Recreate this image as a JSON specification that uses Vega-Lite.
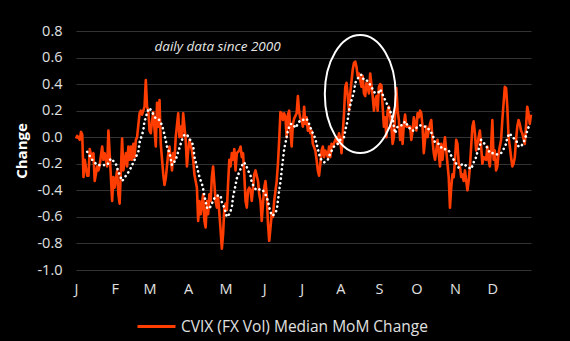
{
  "$schema": "https://vega.github.io/schema/vega-lite/v6.json",
  "width": 455,
  "height": 239,
  "autosize": {"type": "none"},
  "padding": {"left": 76, "top": 31, "right": 39, "bottom": 71},
  "background": "#000000",
  "config": {
    "font": "Open Sans",
    "view": {"stroke": null},
    "axis": {"labelColor": "#e0e0e0", "labelFontSize": 14.5, "domain": false, "ticks": false}
  },
  "datasets": {
    "cvix": [
      {"d":0,"v":-0.01},{"d":1,"v":0.01},{"d":3,"v":-0.02},{"d":4,"v":0.04},{"d":5,"v":0.02},{"d":6,"v":-0.30},{"d":7,"v":-0.17},{"d":9,"v":-0.29},{"d":10,"v":-0.29},{"d":11,"v":-0.09},{"d":13,"v":-0.17},{"d":14,"v":-0.12},{"d":15,"v":-0.33},{"d":17,"v":-0.22},{"d":18,"v":-0.25},{"d":19,"v":-0.21},{"d":21,"v":-0.07},{"d":22,"v":-0.17},{"d":23,"v":-0.12},{"d":25,"v":-0.22},{"d":26,"v":0.05},{"d":27,"v":-0.12},{"d":29,"v":-0.48},{"d":30,"v":-0.30},{"d":31,"v":-0.38},{"d":33,"v":-0.25},{"d":34,"v":-0.43},{"d":35,"v":-0.50},{"d":36,"v":-0.25},{"d":37,"v":-0.01},{"d":38,"v":-0.25},{"d":40,"v":-0.12},{"d":41,"v":-0.22},{"d":42,"v":-0.07},{"d":43,"v":-0.17},{"d":44,"v":-0.07},{"d":45,"v":-0.17},{"d":46,"v":-0.05},{"d":47,"v":-0.15},{"d":48,"v":-0.02},{"d":49,"v":0.00},{"d":51,"v":0.18},{"d":52,"v":0.20},{"d":53,"v":0.17},{"d":55,"v":0.23},{"d":56,"v":0.43},{"d":57,"v":0.23},{"d":58,"v":0.20},{"d":59,"v":0.05},{"d":60,"v":0.03},{"d":61,"v":0.12},
      {"d":62,"v":0.19},{"d":64,"v":-0.07},{"d":65,"v":0.26},{"d":66,"v":0.08},{"d":67,"v":0.28},{"d":68,"v":-0.05},{"d":70,"v":-0.28},{"d":71,"v":-0.36},{"d":72,"v":-0.31},{"d":74,"v":-0.12},{"d":75,"v":-0.07},{"d":77,"v":-0.25},{"d":78,"v":-0.12},{"d":79,"v":-0.17},{"d":80,"v":0.00},{"d":82,"v":0.18},{"d":83,"v":0.00},{"d":84,"v":0.08},{"d":85,"v":0.00},{"d":86,"v":0.18},{"d":88,"v":-0.02},{"d":89,"v":-0.22},{"d":90,"v":-0.10},{"d":91,"v":-0.02},{"d":93,"v":-0.10},{"d":94,"v":-0.17},{"d":95,"v":-0.28},{"d":97,"v":-0.38},{"d":98,"v":-0.63},{"d":99,"v":-0.48},{"d":100,"v":-0.58},{"d":102,"v":-0.43},{"d":103,"v":-0.63},{"d":104,"v":-0.68},{"d":105,"v":-0.48},{"d":106,"v":-0.58},{"d":107,"v":-0.43},{"d":108,"v":-0.48},{"d":109,"v":-0.30},{"d":110,"v":-0.22},{"d":111,"v":-0.35},{"d":112,"v":-0.48},{"d":113,"v":-0.53},{"d":114,"v":-0.45},{"d":116,"v":-0.70},{"d":117,"v":-0.84},{"d":118,"v":-0.73},{"d":119,"v":-0.53},{"d":120,"v":-0.50},{"d":121,"v":-0.55},{"d":122,"v":-0.35},
      {"d":123,"v":-0.17},{"d":124,"v":-0.22},{"d":125,"v":-0.12},{"d":126,"v":-0.17},{"d":127,"v":-0.09},{"d":128,"v":-0.25},{"d":129,"v":-0.12},{"d":131,"v":-0.10},{"d":132,"v":-0.07},{"d":133,"v":-0.15},{"d":134,"v":-0.12},{"d":135,"v":-0.28},{"d":136,"v":-0.48},{"d":137,"v":-0.53},{"d":138,"v":-0.40},{"d":139,"v":-0.38},{"d":140,"v":-0.40},{"d":141,"v":-0.48},{"d":142,"v":-0.38},{"d":143,"v":-0.28},{"d":144,"v":-0.25},{"d":146,"v":-0.33},{"d":147,"v":-0.43},{"d":148,"v":-0.48},{"d":149,"v":-0.63},{"d":150,"v":-0.50},{"d":151,"v":-0.38},{"d":152,"v":-0.33},{"d":153,"v":-0.43},{"d":154,"v":-0.65},{"d":155,"v":-0.78},{"d":156,"v":-0.68},{"d":157,"v":-0.58},{"d":158,"v":-0.60},{"d":159,"v":-0.48},{"d":161,"v":-0.33},{"d":162,"v":-0.20},{"d":163,"v":-0.02},{"d":164,"v":0.19},{"d":165,"v":0.18},{"d":166,"v":0.13},{"d":167,"v":0.18},{"d":168,"v":0.15},{"d":169,"v":0.00},{"d":170,"v":0.17},{"d":171,"v":0.20},{"d":172,"v":0.05},{"d":173,"v":-0.07},{"d":174,"v":0.10},{"d":175,"v":0.14},{"d":177,"v":0.18},{"d":178,"v":0.31},{"d":179,"v":0.19},{"d":180,"v":0.14},{"d":181,"v":0.13},{"d":182,"v":0.08},
      {"d":183,"v":0.23},{"d":184,"v":0.10},{"d":185,"v":0.15},{"d":186,"v":0.05},{"d":187,"v":0.08},{"d":188,"v":0.03},{"d":189,"v":0.05},{"d":190,"v":-0.05},{"d":192,"v":-0.10},{"d":193,"v":-0.17},{"d":194,"v":-0.25},{"d":195,"v":-0.29},{"d":196,"v":-0.20},{"d":197,"v":-0.10},{"d":198,"v":-0.07},{"d":199,"v":-0.15},{"d":200,"v":-0.10},{"d":201,"v":-0.12},{"d":202,"v":-0.15},{"d":203,"v":-0.07},{"d":204,"v":-0.15},{"d":205,"v":-0.05},{"d":206,"v":-0.07},{"d":208,"v":-0.02},{"d":209,"v":0.00},{"d":210,"v":-0.05},{"d":211,"v":0.03},{"d":212,"v":-0.02},{"d":213,"v":-0.12},{"d":214,"v":0.03},{"d":215,"v":0.18},{"d":216,"v":0.38},{"d":217,"v":0.41},{"d":218,"v":0.31},{"d":219,"v":0.20},{"d":220,"v":0.33},{"d":222,"v":0.51},{"d":223,"v":0.56},{"d":224,"v":0.57},{"d":225,"v":0.53},{"d":226,"v":0.46},{"d":227,"v":0.48},{"d":228,"v":0.43},{"d":229,"v":0.38},{"d":230,"v":0.46},{"d":231,"v":0.33},{"d":232,"v":0.31},{"d":233,"v":0.41},{"d":234,"v":0.38},{"d":235,"v":0.33},{"d":236,"v":0.48},{"d":238,"v":0.31},{"d":239,"v":0.20},{"d":240,"v":0.28},{"d":241,"v":0.31},{"d":242,"v":0.20},{"d":243,"v":0.38},{"d":244,"v":0.40},
      {"d":245,"v":0.39},{"d":246,"v":0.23},{"d":247,"v":0.08},{"d":248,"v":0.15},{"d":249,"v":0.00},{"d":250,"v":0.20},{"d":251,"v":0.23},{"d":253,"v":0.08},{"d":254,"v":-0.05},{"d":255,"v":0.00},{"d":256,"v":0.18},{"d":257,"v":0.37},{"d":258,"v":0.20},{"d":259,"v":0.13},{"d":260,"v":-0.02},{"d":261,"v":0.08},{"d":262,"v":-0.05},{"d":263,"v":0.10},{"d":264,"v":0.17},{"d":265,"v":0.08},{"d":266,"v":0.08},{"d":268,"v":0.08},{"d":269,"v":-0.02},{"d":270,"v":0.05},{"d":271,"v":0.15},{"d":272,"v":0.10},{"d":273,"v":0.05},{"d":274,"v":0.18},{"d":275,"v":0.15},{"d":276,"v":0.20},{"d":277,"v":0.18},{"d":278,"v":0.08},{"d":279,"v":-0.12},{"d":280,"v":-0.02},{"d":281,"v":0.08},{"d":282,"v":0.00},{"d":284,"v":0.10},{"d":285,"v":0.13},{"d":286,"v":-0.02},{"d":287,"v":-0.12},{"d":288,"v":-0.17},{"d":289,"v":-0.10},{"d":290,"v":-0.02},{"d":291,"v":-0.12},{"d":292,"v":-0.22},{"d":293,"v":-0.05},{"d":294,"v":-0.17},{"d":295,"v":-0.07},{"d":296,"v":0.00},{"d":297,"v":-0.10},{"d":299,"v":-0.30},{"d":300,"v":-0.53},{"d":301,"v":-0.38},{"d":302,"v":-0.28},{"d":303,"v":-0.30},{"d":304,"v":-0.17},
      {"d":305,"v":-0.02},{"d":306,"v":-0.05},{"d":307,"v":-0.20},{"d":308,"v":-0.22},{"d":309,"v":-0.30},{"d":310,"v":-0.28},{"d":311,"v":-0.33},{"d":312,"v":-0.25},{"d":314,"v":-0.40},{"d":315,"v":-0.33},{"d":316,"v":-0.22},{"d":317,"v":-0.07},{"d":318,"v":0.08},{"d":319,"v":0.12},{"d":320,"v":0.03},{"d":321,"v":-0.10},{"d":322,"v":-0.05},{"d":323,"v":0.00},{"d":324,"v":0.05},{"d":325,"v":-0.07},{"d":326,"v":-0.20},{"d":327,"v":-0.15},{"d":329,"v":-0.17},{"d":330,"v":-0.07},{"d":331,"v":-0.17},{"d":332,"v":-0.22},{"d":333,"v":-0.07},{"d":334,"v":0.13},{"d":335,"v":-0.17},{"d":336,"v":-0.10},{"d":337,"v":-0.25},{"d":338,"v":-0.22},{"d":339,"v":-0.12},{"d":340,"v":-0.07},{"d":341,"v":-0.02},{"d":342,"v":0.13},{"d":344,"v":0.38},{"d":345,"v":0.37},{"d":346,"v":0.23},{"d":347,"v":0.00},{"d":348,"v":-0.07},{"d":349,"v":-0.15},{"d":350,"v":-0.22},{"d":351,"v":-0.20},{"d":352,"v":-0.15},{"d":353,"v":-0.02},{"d":354,"v":0.08},{"d":355,"v":0.13},{"d":356,"v":0.10},{"d":357,"v":0.05},{"d":358,"v":0.03},{"d":360,"v":-0.05},{"d":361,"v":0.08},{"d":362,"v":0.23},{"d":363,"v":0.18},{"d":364,"v":0.10},{"d":365,"v":0.17}
    ],
    "smooth": [
      {"d":9,"v":-0.11},{"d":13,"v":-0.17},{"d":17,"v":-0.21},{"d":21,"v":-0.21},{"d":25,"v":-0.21},{"d":28,"v":-0.16},{"d":32,"v":-0.20},{"d":34,"v":-0.26},{"d":37,"v":-0.33},{"d":40,"v":-0.29},{"d":43,"v":-0.25},{"d":46,"v":-0.19},{"d":48,"v":-0.15},{"d":50,"v":-0.11},{"d":51,"v":-0.04},{"d":53,"v":0.02},{"d":54,"v":0.05},{"d":55,"v":0.13},{"d":56,"v":0.14},{"d":57,"v":0.19},{"d":59,"v":0.22},{"d":61,"v":0.19},
      {"d":64,"v":0.14},{"d":67,"v":0.13},{"d":69,"v":0.09},{"d":71,"v":0.02},{"d":73,"v":-0.07},{"d":75,"v":-0.12},{"d":77,"v":-0.21},{"d":80,"v":-0.17},{"d":82,"v":-0.11},{"d":84,"v":-0.05},{"d":85,"v":-0.02},{"d":87,"v":0.02},{"d":89,"v":0.02},{"d":91,"v":-0.01},{"d":94,"v":-0.06},{"d":95,"v":-0.15},{"d":97,"v":-0.22},{"d":99,"v":-0.30},{"d":101,"v":-0.35},{"d":102,"v":-0.39},{"d":103,"v":-0.44},{"d":105,"v":-0.53},{"d":107,"v":-0.54},{"d":109,"v":-0.50},{"d":111,"v":-0.46},{"d":113,"v":-0.44},{"d":116,"v":-0.44},{"d":117,"v":-0.49},{"d":119,"v":-0.53},{"d":121,"v":-0.60},
      {"d":123,"v":-0.58},{"d":125,"v":-0.53},{"d":126,"v":-0.45},{"d":128,"v":-0.36},{"d":129,"v":-0.31},{"d":131,"v":-0.26},{"d":133,"v":-0.22},{"d":134,"v":-0.19},{"d":136,"v":-0.20},{"d":138,"v":-0.25},{"d":140,"v":-0.29},{"d":141,"v":-0.34},{"d":143,"v":-0.38},{"d":145,"v":-0.40},{"d":148,"v":-0.39},{"d":150,"v":-0.40},{"d":152,"v":-0.43},{"d":154,"v":-0.48},{"d":155,"v":-0.53},{"d":157,"v":-0.59},{"d":158,"v":-0.59},{"d":161,"v":-0.55},{"d":162,"v":-0.48},{"d":163,"v":-0.40},{"d":164,"v":-0.34},{"d":165,"v":-0.25},{"d":166,"v":-0.17},{"d":167,"v":-0.09},{"d":169,"v":0.00},{"d":170,"v":0.05},{"d":172,"v":0.10},{"d":174,"v":0.10},{"d":176,"v":0.07},{"d":178,"v":0.10},{"d":180,"v":0.13},{"d":182,"v":0.13},
      {"d":185,"v":0.14},{"d":187,"v":0.10},{"d":189,"v":0.05},{"d":192,"v":-0.01},{"d":194,"v":-0.09},{"d":196,"v":-0.16},{"d":199,"v":-0.19},{"d":202,"v":-0.17},{"d":204,"v":-0.12},{"d":207,"v":-0.07},{"d":210,"v":-0.05},{"d":212,"v":-0.02},{"d":215,"v":0.00},{"d":216,"v":0.05},{"d":218,"v":0.13},{"d":219,"v":0.20},{"d":221,"v":0.28},{"d":223,"v":0.34},{"d":224,"v":0.41},{"d":226,"v":0.44},{"d":227,"v":0.46},{"d":229,"v":0.47},{"d":231,"v":0.43},{"d":233,"v":0.43},{"d":235,"v":0.41},{"d":237,"v":0.38},{"d":239,"v":0.34},{"d":241,"v":0.33},{"d":243,"v":0.34},
      {"d":244,"v":0.36},{"d":246,"v":0.32},{"d":248,"v":0.28},{"d":250,"v":0.24},{"d":252,"v":0.20},{"d":254,"v":0.14},{"d":255,"v":0.08},{"d":256,"v":0.03},{"d":258,"v":0.08},{"d":260,"v":0.09},{"d":262,"v":0.09},{"d":264,"v":0.12},{"d":266,"v":0.09},{"d":269,"v":0.05},{"d":271,"v":0.05},{"d":273,"v":0.07},{"d":276,"v":0.09},{"d":279,"v":0.08},{"d":281,"v":0.08},{"d":284,"v":0.05},{"d":286,"v":0.02},{"d":288,"v":-0.04},{"d":291,"v":-0.05},{"d":294,"v":-0.09},{"d":296,"v":-0.09},{"d":299,"v":-0.10},{"d":301,"v":-0.14},{"d":303,"v":-0.17},{"d":305,"v":-0.20},
      {"d":307,"v":-0.23},{"d":310,"v":-0.20},{"d":314,"v":-0.22},{"d":317,"v":-0.24},{"d":319,"v":-0.19},{"d":321,"v":-0.15},{"d":322,"v":-0.11},{"d":324,"v":-0.07},{"d":325,"v":-0.02},{"d":327,"v":-0.04},{"d":330,"v":-0.08},{"d":332,"v":-0.12},{"d":334,"v":-0.12},{"d":336,"v":-0.12},{"d":338,"v":-0.13},{"d":341,"v":-0.12},{"d":343,"v":-0.09},{"d":345,"v":-0.05},{"d":346,"v":0.00},{"d":348,"v":0.03},{"d":350,"v":0.00},{"d":353,"v":-0.02},{"d":355,"v":-0.07},{"d":357,"v":-0.07},{"d":359,"v":-0.04},{"d":361,"v":0.01},{"d":362,"v":0.05},{"d":364,"v":0.10}
    ],
    "note": [{"d":63,"v":0.68,"label":"daily data since 2000"}],
    "ring": [{"d":228,"v":0.325}]
  },
  "layer": [
    {
      "mark": {"type": "rule", "color": "#8c8c8c", "strokeWidth": 2},
      "encoding": {"y": {"datum": 0, "type": "quantitative"}}
    },
    {
      "data": {"name": "cvix"},
      "mark": {"type": "line", "strokeWidth": 2.6, "strokeJoin": "round"},
      "encoding": {
        "x": {
          "field": "d", "type": "quantitative",
          "scale": {"domain": [0, 365], "nice": false},
          "axis": {
            "title": null, "grid": false, "tickCount": 30,
            "values": [0, 31, 59, 90, 120, 151, 181, 212, 243, 273, 304, 334],
            "labelExpr": "['J','F','M','A','M','J','J','A','S','O','N','D'][indexof([0,31,59,90,120,151,181,212,243,273,304,334], datum.value)]",
            "labelPadding": 12, "labelAlign": "center", "labelOverlap": false
          }
        },
        "y": {
          "field": "v", "type": "quantitative",
          "scale": {"domain": [-1.0, 0.8], "nice": false, "zero": false},
          "axis": {
            "title": "Change", "titleColor": "#ffffff", "titleFontSize": 15, "titleFontWeight": "bold",
            "titlePadding": 7, "tickCount": 30,
            "values": [-1.0, -0.8, -0.6, -0.4, -0.2, 0.0, 0.2, 0.4, 0.6, 0.8],
            "labelExpr": "replace(format(datum.value, '.1f'), '\u2212', '-')",
            "labelPadding": 14, "labelOverlap": false, "labelBound": false, "labelFlush": false,
            "grid": true, "gridColor": "#333333", "gridWidth": 1
          }
        },
        "color": {
          "datum": "CVIX (FX Vol) Median MoM Change",
          "scale": {"range": ["#ff3d00"]},
          "legend": {
            "title": null, "orient": "none", "legendX": 60, "legendY": 275,
            "symbolType": "stroke", "symbolSize": 1444, "symbolStrokeWidth": 3,
            "labelFontSize": 15.5, "labelColor": "#e0e0e0", "labelOffset": 4, "labelLimit": 0
          }
        }
      }
    },
    {
      "data": {"name": "smooth"},
      "mark": {"type": "line", "color": "#ffffff", "strokeWidth": 2.6, "strokeCap": "round", "strokeDash": [0.1, 4.6]},
      "encoding": {
        "x": {"field": "d", "type": "quantitative"},
        "y": {"field": "v", "type": "quantitative"}
      }
    },
    {
      "data": {"name": "ring"},
      "mark": {"type": "point", "shape": "M -0.6 0 A 0.6 1 0 1 1 0.6 0 A 0.6 1 0 1 1 -0.6 0 Z", "size": 13924, "filled": false, "stroke": "#ffffff", "strokeWidth": 2, "opacity": 1},
      "encoding": {
        "x": {"field": "d", "type": "quantitative"},
        "y": {"field": "v", "type": "quantitative"}
      }
    },
    {
      "data": {"name": "note"},
      "mark": {"type": "text", "align": "left", "baseline": "middle", "fontStyle": "italic", "fontSize": 13.5, "color": "#e6e6e6"},
      "encoding": {
        "x": {"field": "d", "type": "quantitative"},
        "y": {"field": "v", "type": "quantitative"},
        "text": {"field": "label"}
      }
    }
  ]
}
